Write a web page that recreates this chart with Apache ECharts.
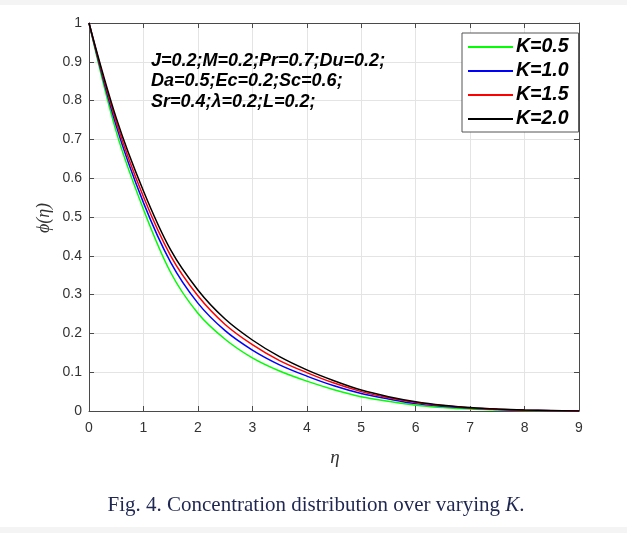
<!DOCTYPE html>
<html>
<head>
<meta charset="utf-8">
<script src="https://cdn.jsdelivr.net/npm/echarts@6/dist/echarts.min.js"></script>
<style>
html,body{margin:0;padding:0;background:#f4f4f4;}
#c{width:627px;height:533px;}
</style>
</head>
<body>
<div id="c"></div>
<script>
// Data
const eta = [0, 0.5, 1, 1.5, 2, 2.5, 3, 3.5, 4, 4.5, 5, 5.5, 6, 6.5, 7, 7.5, 8, 8.5, 9];
const K05 = [1, 0.72, 0.52, 0.357, 0.252, 0.185, 0.137, 0.103, 0.077, 0.055, 0.037, 0.025, 0.015, 0.009, 0.005, 0.003, 0.0015, 0.0005, 0];
const K10 = [1, 0.735, 0.537, 0.383, 0.278, 0.207, 0.157, 0.119, 0.09, 0.065, 0.045, 0.031, 0.019, 0.012, 0.007, 0.004, 0.002, 0.0008, 0];
const K15 = [1, 0.745, 0.552, 0.40, 0.297, 0.223, 0.171, 0.13, 0.099, 0.072, 0.05, 0.034, 0.022, 0.014, 0.008, 0.0045, 0.0022, 0.0009, 0];
const K20 = [1, 0.755, 0.567, 0.415, 0.312, 0.237, 0.183, 0.14, 0.106, 0.078, 0.054, 0.037, 0.024, 0.015, 0.009, 0.005, 0.0025, 0.001, 0];
const seriesNames = ['K=0.5', 'K=1.0', 'K=1.5', 'K=2.0'];
const seriesColors = ['#00ff00', '#0000ff', '#ff0000', '#000000'];
const xTicks = [0, 1, 2, 3, 4, 5, 6, 7, 8, 9];
const yTicks = [0, 0.1, 0.2, 0.3, 0.4, 0.5, 0.6, 0.7, 0.8, 0.9, 1];
const annotation = ['J=0.2;M=0.2;Pr=0.7;Du=0.2;', 'Da=0.5;Ec=0.2;Sc=0.6;', 'Sr=0.4;\u03bb=0.2;L=0.2;'];

const allData = [K05, K10, K15, K20];
const chart = echarts.init(document.getElementById('c'), null, {renderer: 'canvas'});

const G = {left: 89, top: 23, width: 490, height: 388};
const axisCol = '#4a4a4a';
const labelCol = '#333333';

const fmtY = v => { const r = Math.round(v * 10) / 10; return r === 0 ? '0' : (r === 1 ? '1' : r.toFixed(1)); };

const option = {
  animation: false,
  backgroundColor: 'transparent',
  grid: {left: G.left, top: G.top, width: G.width, height: G.height, containLabel: false},
  xAxis: [
    {type: 'value', min: xTicks[0], max: xTicks[xTicks.length - 1], interval: 1,
     axisLine: {show: true, onZero: false, lineStyle: {color: axisCol, width: 1}},
     axisTick: {show: true, inside: true, length: 5, lineStyle: {color: axisCol}},
     axisLabel: {color: labelCol, fontSize: 14, fontFamily: 'Liberation Sans, Arial', margin: 10},
     splitLine: {show: true, lineStyle: {color: '#e4e4e4', width: 1}}},
    {type: 'value', position: 'top', min: 0, max: 9, interval: 1,
     axisLine: {show: true, onZero: false, lineStyle: {color: axisCol, width: 1}},
     axisTick: {show: true, inside: true, length: 5, lineStyle: {color: axisCol}},
     axisLabel: {show: false}, splitLine: {show: false}}
  ],
  yAxis: [
    {type: 'value', min: yTicks[0], max: yTicks[yTicks.length - 1], interval: 0.1,
     axisLine: {show: true, onZero: false, lineStyle: {color: axisCol, width: 1}},
     axisTick: {show: true, inside: true, length: 5, lineStyle: {color: axisCol}},
     axisLabel: {color: labelCol, fontSize: 14, fontFamily: 'Liberation Sans, Arial', margin: 7, formatter: fmtY},
     splitLine: {show: true, lineStyle: {color: '#e4e4e4', width: 1}}},
    {type: 'value', position: 'right', min: 0, max: 1, interval: 0.1,
     axisLine: {show: true, onZero: false, lineStyle: {color: axisCol, width: 1}},
     axisTick: {show: true, inside: true, length: 5, lineStyle: {color: axisCol}},
     axisLabel: {show: false}, splitLine: {show: false}}
  ],
  legend: {
    data: seriesNames, orient: 'vertical', left: 462, top: 33,
    backgroundColor: '#ffffff', borderColor: '#555555', borderWidth: 1,
    padding: [4, 10, 3, 5], itemWidth: 45, itemHeight: 14, itemGap: 4,
    itemStyle: {opacity: 0},
    textStyle: {fontSize: 19.5, fontWeight: 'bold', fontStyle: 'italic', fontFamily: 'Liberation Sans, Arial', color: '#000', lineHeight: 18, padding: [0, 0, 0, -2]}
  },
  series: seriesNames.map((n, i) => ({
    name: n, type: 'line', smooth: 0.35, symbol: 'none',
    data: eta.map((x, j) => [x, allData[i][j]]),
    lineStyle: {color: seriesColors[i], width: 1.5},
    itemStyle: {color: seriesColors[i]},
    emphasis: {disabled: true}
  })),
  graphic: [
    {type: 'rect', z: -10, silent: true, shape: {x: 0, y: 5, width: 627, height: 522}, style: {fill: '#ffffff'}},
    ...annotation.map((t, i) => ({
      type: 'text', left: 151, top: 52 + i * 20.5, z: 10,
      style: {text: t, fontSize: 18, fontWeight: 'bold', fontStyle: 'italic', fontFamily: 'Liberation Sans, Arial', fill: '#000'}
    })),
    {type: 'text', x: 335, y: 458, z: 10,
     style: {text: '\u03b7', fontSize: 19, fontStyle: 'italic', fontFamily: 'Liberation Serif, Times New Roman', fill: '#333', align: 'center', verticalAlign: 'middle'}},
    {type: 'text', x: 44, y: 218, rotation: Math.PI / 2, z: 10,
     style: {text: '\u03d5(\u03b7)', fontSize: 18, fontStyle: 'italic', fontFamily: 'Liberation Serif, Times New Roman', fill: '#333', align: 'center', verticalAlign: 'middle'}},
    {type: 'text', x: 316, y: 505, z: 10,
     style: {text: '{n|Fig. 4. Concentration distribution over varying }{i|K}{n|.}', align: 'center', verticalAlign: 'middle',
       rich: {n: {fontSize: 21, fontFamily: 'Liberation Serif, Times New Roman', fill: '#1f2752', color: '#1f2752'},
              i: {fontSize: 21, fontStyle: 'italic', fontFamily: 'Liberation Serif, Times New Roman', fill: '#1f2752', color: '#1f2752'}}}}
  ]
};
chart.setOption(option);
</script>
</body>
</html>
